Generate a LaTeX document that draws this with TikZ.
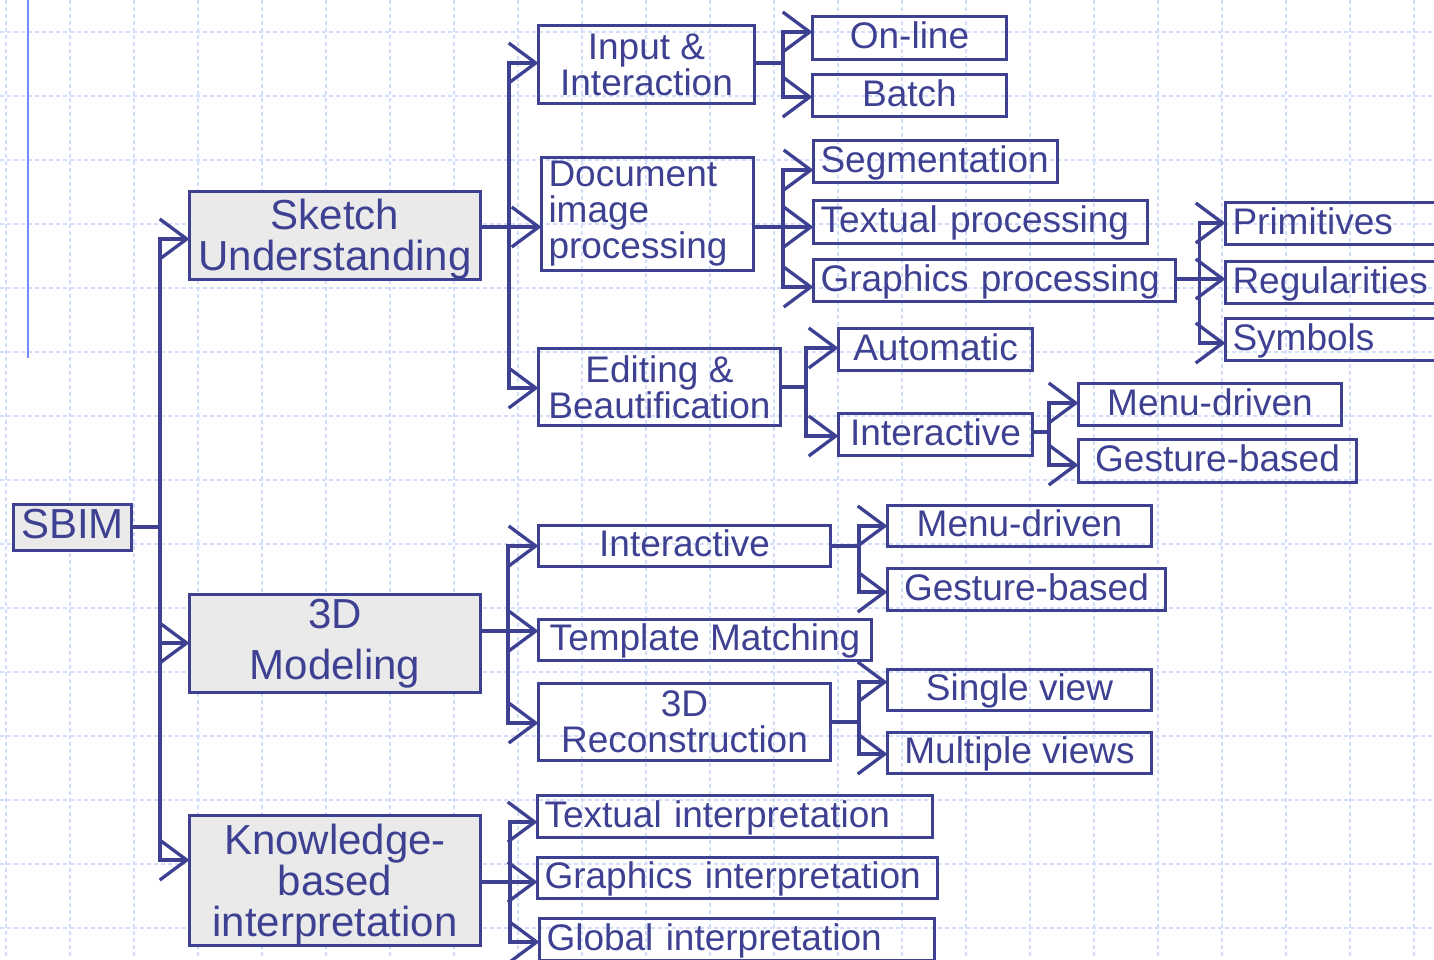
\documentclass[tikz,border=0pt]{standalone}
\usepackage{fontspec}
\setmainfont{Liberation Sans}
\usetikzlibrary{arrows.meta}
\definecolor{navy}{RGB}{62,64,146}
\definecolor{boxgrey}{RGB}{234,234,234}
\definecolor{gridblue}{RGB}{210,221,252}
\definecolor{rulerblue}{RGB}{112,140,255}

\begin{document}
\begin{tikzpicture}[
x=0.5pt, y=-0.5pt,
topnode/.style={rectangle, draw=navy, fill=boxgrey, line width=1.65pt, text=navy, inner sep=0pt, outer sep=0pt, align=center, font=\fontsize{21}{20.5}\selectfont},
subnode/.style={rectangle, draw=navy, line width=1.65pt, text=navy, inner sep=0pt, outer sep=0pt, align=center, font=\fontsize{18.5}{18}\selectfont},
oneline/.style={text height=14.5pt, text depth=3.6pt},
leftnode/.style={subnode, oneline, anchor=west, align=left, inner xsep=3.5pt},
link/.style={draw=navy, line width=1.65pt},
branch/.style={link, -{Straight Barb[length=13.5pt, width=20pt]}},
gridline/.style={gridblue, line width=1pt, dash pattern=on 2pt off 1.5pt},
]
\useasboundingbox (0,0) rectangle (1434,959);
\clip (0,0) rectangle (1434,959);

%Grid
\foreach \gx in {6,70,...,1414} \draw[gridline] (\gx,0) -- (\gx,959);
\foreach \gy in {32,96,...,928} \draw[gridline] (0,\gy) -- (1434,\gy);
\draw[rulerblue, line width=1pt] (28,0) -- (28,358);

%Nodes
\node[topnode, text height=16pt, text depth=4.6pt, minimum width=59pt, minimum height=23pt] (sbim) at (72.5,527.5) {SBIM};
\node[topnode, minimum width=145.5pt, minimum height=44pt, text depth=0.5pt] (sketch) at (335,235.5) {Sketch\\Understanding};
\node[topnode, minimum width=145.5pt, minimum height=49pt] (model) at (335,643.5) {3D\\[4.75pt]Modeling};
\node[topnode, minimum width=145.5pt, minimum height=65pt, text depth=0.5pt] (know) at (335,880.5) {Knowledge-\\based\\interpretation};

\node[subnode, minimum width=108pt, minimum height=39pt] (input) at (646.5,64.5) {Input \&\\Interaction};
\node[subnode, anchor=west, align=left, inner xsep=3.5pt, text width=99pt, minimum height=56.5pt] (doc) at (541.5,214) {Document\\image\\processing};
\node[subnode, minimum width=121pt, minimum height=38.5pt] (edit) at (659.5,387) {Editing \&\\Beautification};

\node[subnode, oneline, minimum width=97pt, minimum height=21.5pt] (online) at (909.5,38) {On-line};
\node[subnode, oneline, minimum width=97pt, minimum height=21pt] (batch) at (909.5,95.5) {Batch};
\node[leftnode, text width=115pt, minimum height=21pt] (segm) at (813.5,161.5) {Segmentation};
\node[leftnode, text width=160pt, minimum height=21.5pt] (textproc) at (813.5,222) {Textual processing};
\node[leftnode, text width=174pt, minimum height=21pt] (graphproc) at (813.5,280.5) {Graphics processing};
\node[leftnode, text width=130pt, minimum height=21pt] (prim) at (1225.5,223.5) {Primitives};
\node[leftnode, text width=130pt, minimum height=21pt] (reg) at (1225.5,282.5) {Regularities};
\node[leftnode, text width=130pt, minimum height=21pt] (sym) at (1225.5,339.5) {Symbols};
\node[subnode, oneline, minimum width=97pt, minimum height=21pt] (auto) at (935.5,349.5) {Automatic};
\node[subnode, oneline, minimum width=97pt, minimum height=21pt] (einter) at (935.5,434.5) {Interactive};
\node[subnode, oneline, minimum width=131.5pt, minimum height=21pt] (emenu) at (1210,404.5) {Menu-driven};
\node[subnode, oneline, minimum width=139pt, minimum height=21.5pt] (egest) at (1217.5,461) {Gesture-based};

\node[subnode, oneline, minimum width=146pt, minimum height=20.5pt] (minter) at (684.5,546) {Interactive};
\node[subnode, oneline, minimum width=166.5pt, minimum height=20.5pt] (templ) at (705,640) {Template Matching};
\node[subnode, minimum width=146pt, minimum height=38.5pt] (recon) at (684.5,722) {3D\\Reconstruction};
\node[subnode, oneline, minimum width=132pt, minimum height=20.5pt] (mmenu) at (1019.5,526) {Menu-driven};
\node[subnode, oneline, minimum width=139pt, minimum height=21pt] (mgest) at (1026.5,589.5) {Gesture-based};
\node[subnode, oneline, minimum width=132pt, minimum height=20.5pt] (single) at (1019.5,690) {Single view};
\node[subnode, oneline, minimum width=132pt, minimum height=20.5pt] (multi) at (1019.5,753) {Multiple views};

\node[leftnode, text width=190.5pt, minimum height=21pt] (tint) at (537.5,816.5) {Textual interpretation};
\node[leftnode, text width=193pt, minimum height=20.5pt] (gint) at (537.5,878) {Graphics interpretation};
\node[leftnode, text width=190.5pt, minimum height=21pt] (glint) at (539.5,939.5) {Global interpretation};

%Junctions
\coordinate (jroot) at (160,527);
\coordinate (jsketch) at (509,227);
\coordinate (jinput) at (783,63);
\coordinate (jdoc) at (783,227);
\coordinate (jgraph) at (1199.5,279);
\coordinate (jedit) at (806,387);
\coordinate (jeinter) at (1049,432);
\coordinate (jmodel) at (508,631);
\coordinate (jminter) at (859,546);
\coordinate (jrecon) at (859,722);
\coordinate (jknow) at (510,882);

%Lines
\draw[link] (sbim.east |- jroot) -- (jroot);
\draw[branch] (jroot) |- (sketch.west |- 0,239);
\draw[branch] (jroot) |- (model.west |- 0,643);
\draw[branch] (jroot) |- (know.west |- 0,860);

\draw[link] (sketch.east |- jsketch) -- (jsketch);
\draw[branch] (jsketch) |- (input.west |- 0,63);
\draw[branch] (jsketch) -- (doc.west |- jsketch);
\draw[branch] (jsketch) |- (edit.west |- 0,388);

\draw[link] (input.east |- jinput) -- (jinput);
\draw[branch] (jinput) |- (online.west |- 0,32);
\draw[branch] (jinput) |- (batch.west |- 0,97);

\draw[link] (doc.east |- jdoc) -- (jdoc);
\draw[branch] (jdoc) |- (segm.west |- 0,170);
\draw[branch] (jdoc) -- (textproc.west |- jdoc);
\draw[branch] (jdoc) |- (graphproc.west |- 0,287);

\draw[link] (graphproc.east |- jgraph) -- (jgraph);
\draw[branch] (jgraph) |- (prim.west |- 0,223);
\draw[branch] (jgraph) -- (reg.west |- jgraph);
\draw[branch] (jgraph) |- (sym.west |- 0,343);

\draw[link] (edit.east |- jedit) -- (jedit);
\draw[branch] (jedit) |- (auto.west |- 0,348);
\draw[branch] (jedit) |- (einter.west |- 0,436);

\draw[link] (einter.east |- jeinter) -- (jeinter);
\draw[branch] (jeinter) |- (emenu.west |- 0,403);
\draw[branch] (jeinter) |- (egest.west |- 0,465);

\draw[link] (model.east |- jmodel) -- (jmodel);
\draw[branch] (jmodel) |- (minter.west |- 0,546);
\draw[branch] (jmodel) -- (templ.west |- jmodel);
\draw[branch] (jmodel) |- (recon.west |- 0,723);

\draw[link] (minter.east |- jminter) -- (jminter);
\draw[branch] (jminter) |- (mmenu.west |- 0,526);
\draw[branch] (jminter) |- (mgest.west |- 0,592);

\draw[link] (recon.east |- jrecon) -- (jrecon);
\draw[branch] (jrecon) |- (single.west |- 0,682);
\draw[branch] (jrecon) |- (multi.west |- 0,754);

\draw[link] (know.east |- jknow) -- (jknow);
\draw[branch] (jknow) |- (tint.west |- 0,822);
\draw[branch] (jknow) -- (gint.west |- jknow);
\draw[branch] (jknow) |- (glint.west |- 0,942);
\end{tikzpicture}
\end{document}
